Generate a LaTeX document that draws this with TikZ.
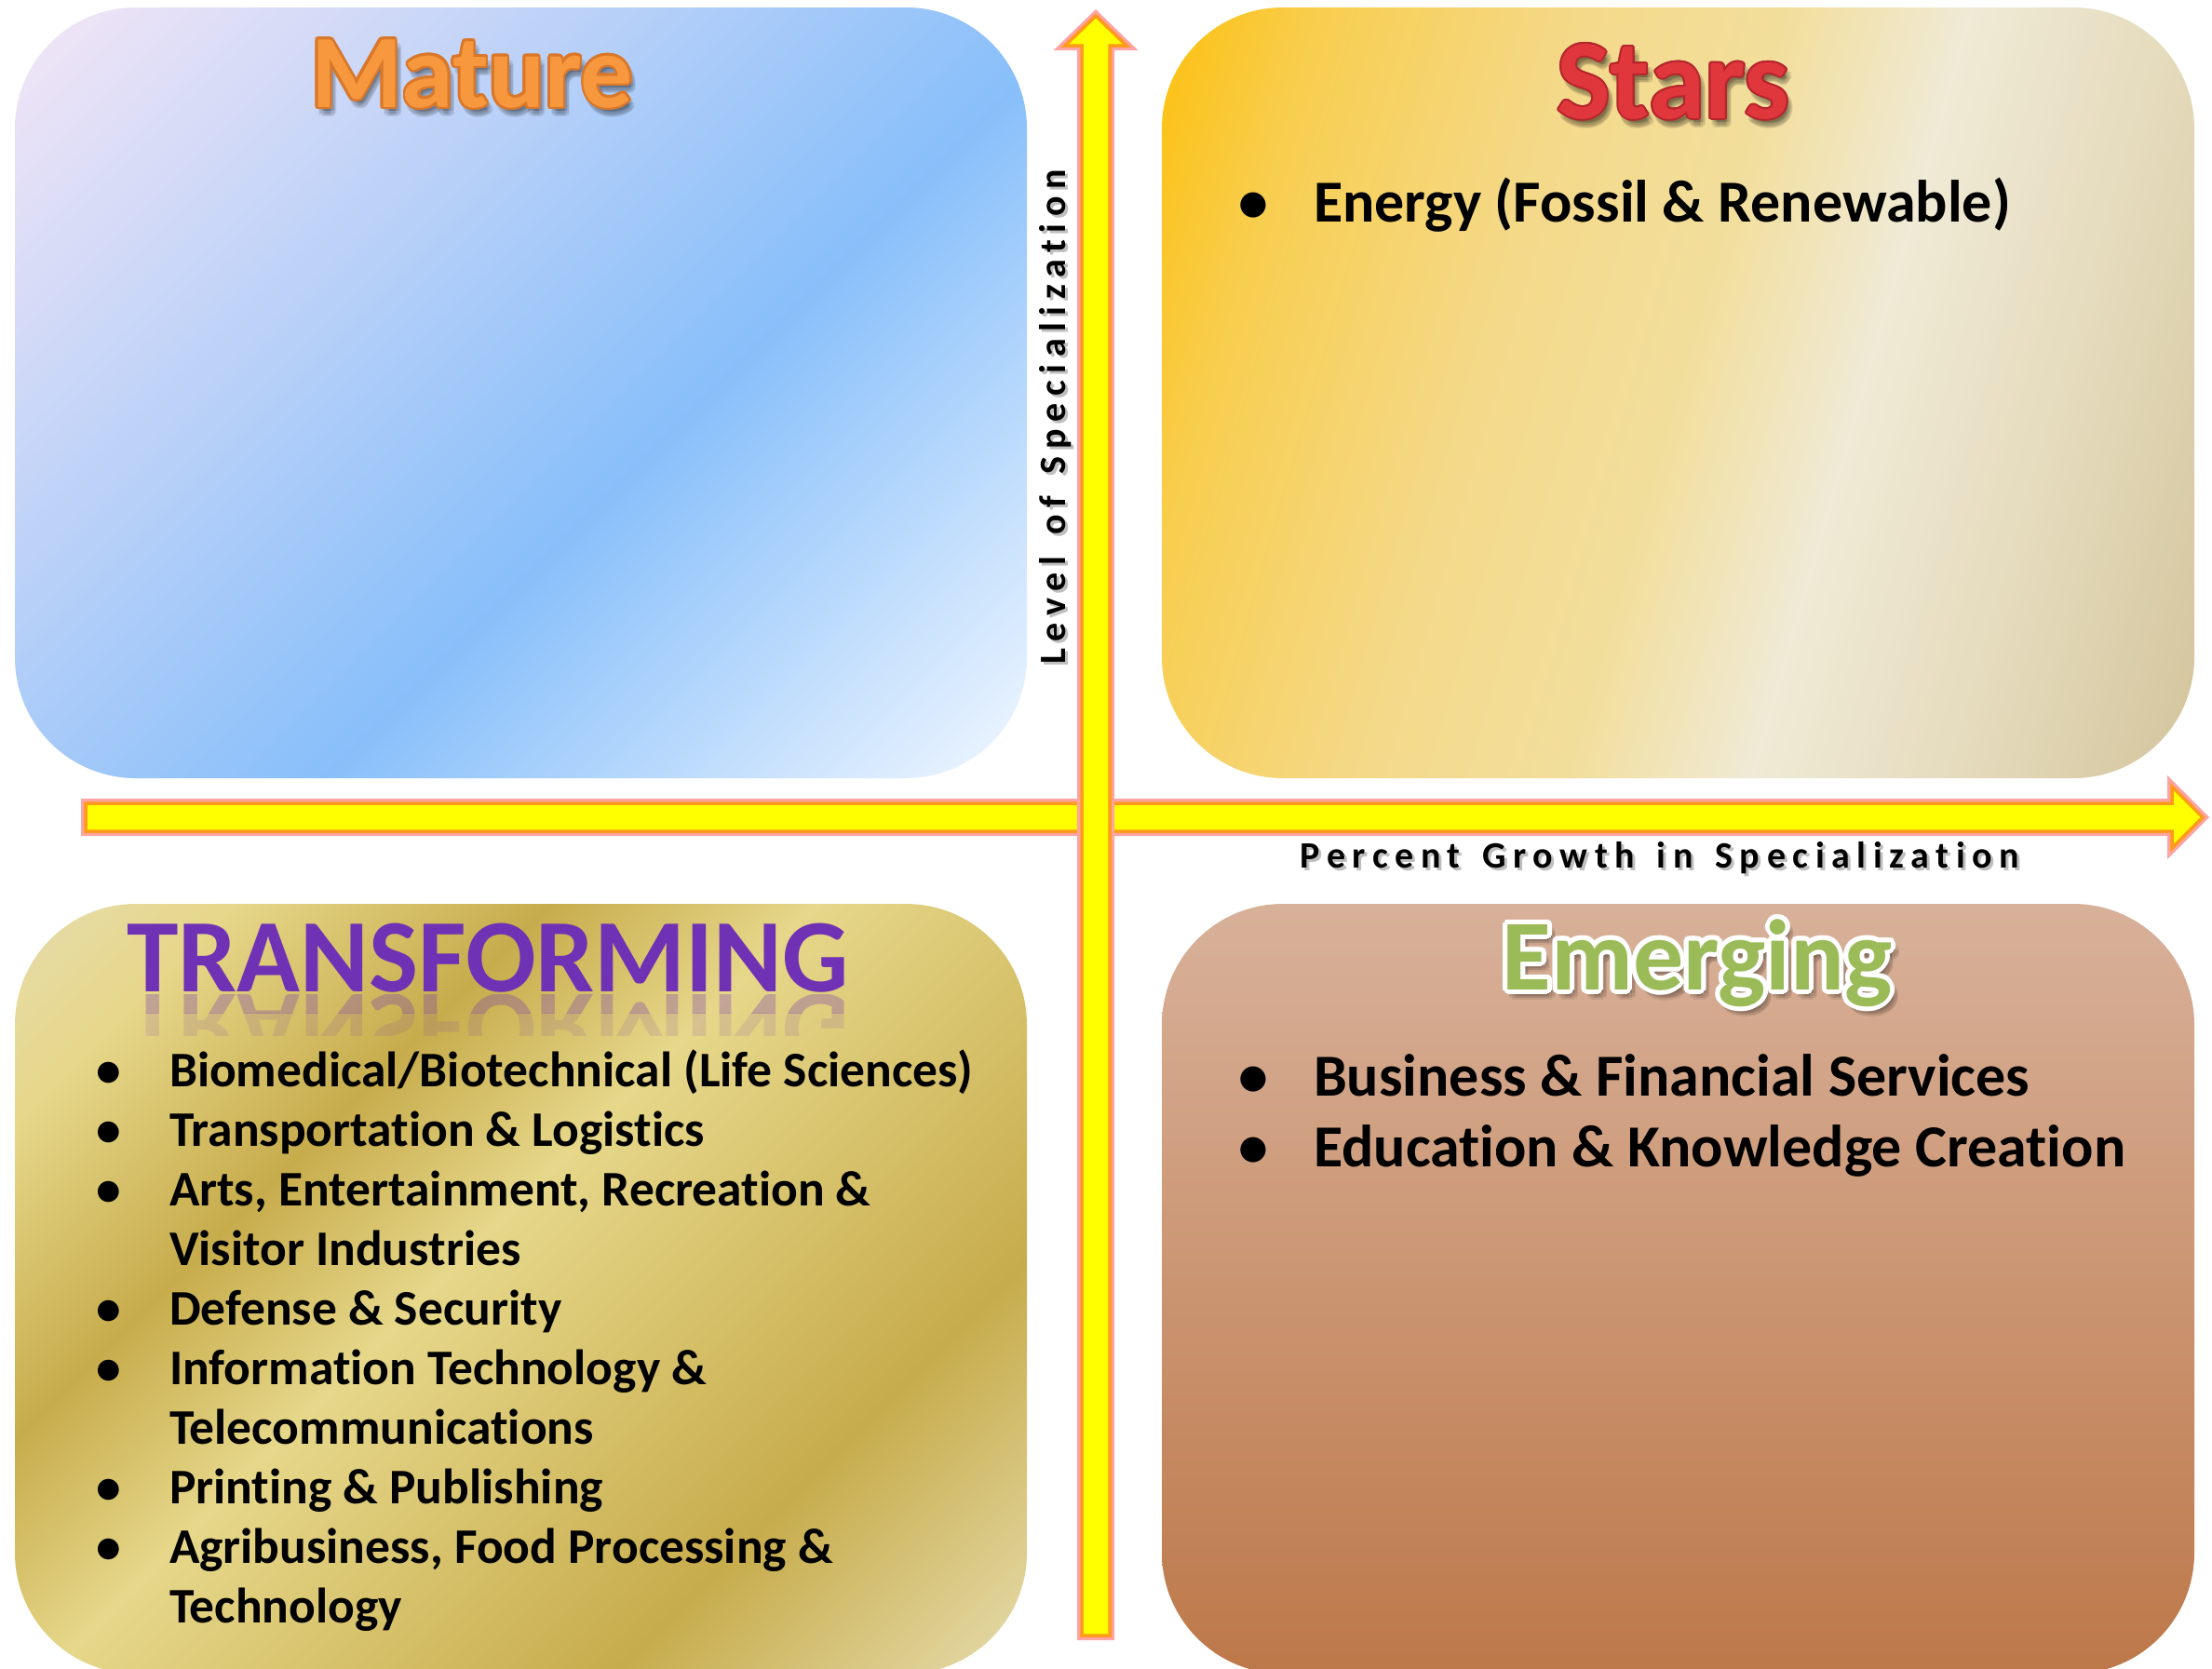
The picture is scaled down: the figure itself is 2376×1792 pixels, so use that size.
\documentclass[tikz,border=0pt]{standalone}
\usepackage{fontspec}
\setmainfont{Carlito}[Ligatures=NoCommon]
\newfontfamily\axisfont{Carlito}[LetterSpace=19,Ligatures=NoCommon]
\definecolor{matA}{HTML}{F4E6F6}
\definecolor{matB}{HTML}{88BFFA}
\definecolor{matC}{HTML}{F0F7FF}
\definecolor{stA}{HTML}{FCC00F}
\definecolor{stB}{HTML}{F8CE50}
\definecolor{stC}{HTML}{F4D98A}
\definecolor{stC2}{HTML}{F2DE9C}
\definecolor{stD}{HTML}{F0EAD6}
\definecolor{stD2}{HTML}{E4DABB}
\definecolor{stE}{HTML}{D3C49C}
\definecolor{gA}{HTML}{E6DCAC}
\definecolor{gB}{HTML}{E6D78A}
\definecolor{gC}{HTML}{C7AC4C}
\definecolor{emTop}{HTML}{D8B19A}
\definecolor{emMid}{HTML}{D5A177}
\definecolor{emBot}{HTML}{BD7849}
\definecolor{arrowYellow}{HTML}{FFFF00}
\definecolor{arrowOrange}{HTML}{FF9A1A}
\definecolor{arrowPink}{HTML}{FFA3A3}
\definecolor{matureOrange}{HTML}{F7983E}
\definecolor{matureEdge}{HTML}{D9772A}
\definecolor{starsRed}{HTML}{E0373D}
\definecolor{starsEdge}{HTML}{B3262C}
\definecolor{transPurple}{HTML}{7032B4}
\definecolor{emGreen}{HTML}{9BBB59}
\pgfdeclarehorizontalshading{matureshade}{100bp}{color(0bp)=(matA); color(14.6bp)=(matA); color(57.5bp)=(matB); color(85.4bp)=(matC); color(100bp)=(matC)}
\pgfdeclarehorizontalshading{starsshade}{100bp}{color(0bp)=(stA); color(19.1bp)=(stA); color(27bp)=(stB); color(40bp)=(stC); color(50bp)=(stC2); color(59bp)=(stD); color(70bp)=(stD2); color(80.9bp)=(stE); color(100bp)=(stE)}
\pgfdeclarehorizontalshading{goldshade}{100bp}{color(0bp)=(gA); color(14.6bp)=(gA); color(23.1bp)=(gB); color(35.8bp)=(gC); color(46.4bp)=(gB); color(69.1bp)=(gC); color(85.4bp)=(gA); color(100bp)=(gA)}
\newcommand\listfontA{\fontsize{64}{76}\selectfont\bfseries}
\newcommand\listfontB{\fontsize{53.5}{64}\selectfont\bfseries}
\newcommand\listfontC{\fontsize{64}{76}\selectfont\bfseries}
\newcommand\axislabelfont{\axisfont\fontsize{40}{48}\selectfont\bfseries}
\newcommand\wgap{\hspace{7pt} }
\begin{document}
\begin{tikzpicture}[x=1pt,y=-1pt,
  quad/.style={rounded corners=130pt},
  axisarrow/.style={fill=arrowYellow, draw=arrowOrange, line width=3.5pt, line join=miter,
    preaction={draw=arrowPink, line width=10pt, line join=miter}},
  txt/.style={inner sep=0pt, outer sep=0pt},
  itemA/.style={txt, anchor=base west, font=\listfontA},
  itemB/.style={txt, anchor=base west, font=\listfontB},
  itemC/.style={txt, anchor=base west, font=\listfontC},
  bulA/.style={txt, anchor=base, font=\listfontA},
  bulB/.style={txt, anchor=base, font=\listfontB},
  bulC/.style={txt, anchor=base, font=\listfontC},
  titleM/.style={txt, anchor=base, font=\fontsize{112}{130}\selectfont\bfseries},
  titleS/.style={txt, anchor=base, font=\fontsize{122}{140}\selectfont\bfseries},
  titleT/.style={txt, anchor=base, font=\fontsize{112}{130}\selectfont\bfseries},
  titleE/.style={txt, anchor=base, font=\fontsize{108}{126}\selectfont\bfseries},
  axislab/.style={txt, anchor=base, font=\axislabelfont}
]
\useasboundingbox (0,0) rectangle (2376,1792);
\fill[white] (0,0) rectangle (2376,1792);

% quadrants
\shade[quad, shading=matureshade, shading angle=-45] (16,8) rectangle (1103,836);
\shade[quad, shading=starsshade, shading angle=-16] (1248,8) rectangle (2357,836);
\shade[quad, shading=goldshade, shading angle=-45] (16,971) rectangle (1103,1798);
\shade[quad, top color=emTop, middle color=emMid, bottom color=emBot] (1248,971) rectangle (2357,1798);

% axes
\draw[axisarrow] (92,863) -- (2333,863) -- (2333,845) -- (2366,878) -- (2333,911) -- (2333,893) -- (92,893) -- cycle;
\draw[axisarrow] (1162,1757) -- (1162,49) -- (1144,49) -- (1177,17) -- (1210,49) -- (1192,49) -- (1192,1757) -- cycle;

% axis labels
\node[axislab, text=black, opacity=0.25] (xlabsh) at (1786,935) {Percent\wgap Growth\wgap in\wgap Specialization};
\node[axislab] (xlab) at (1783,932) {Percent\wgap Growth\wgap in\wgap Specialization};
\node[axislab, rotate=90, text=black, opacity=0.25] (ylabsh) at (1147,451) {Level\wgap of\wgap Specialization};
\node[axislab, rotate=90] (ylab) at (1144,448) {Level\wgap of\wgap Specialization};

% Mature title
\foreach \a [count=\i] in {0,45,...,315}
  \node[titleM, text=black, opacity=0.07, shift={(\a:3)}] (msh\i) at (511,122) {Mature};
\foreach \a [count=\i] in {0,30,...,330}
  \node[titleM, text=matureEdge, shift={(\a:2.5)}] (mout\i) at (507,115) {Mature};
\node[titleM, text=matureOrange] (mature) at (507,115) {Mature};

% Stars title
\foreach \a [count=\i] in {0,45,...,315}
  \node[titleS, text=black, opacity=0.08, shift={(\a:3)}] (ssh\i) at (1801,134) {Stars};
\foreach \a [count=\i] in {0,30,...,330}
  \node[titleS, text=starsEdge, shift={(\a:2)}] (sout\i) at (1797,127) {Stars};
\node[titleS, text=starsRed] (stars) at (1797,127) {Stars};

% Transforming title with reflection
\begin{scope}
  \clip (100,1068) rectangle (960,1088);
  \node[titleT, text=transPurple, opacity=0.3, yscale=-1] (trefl1) at (524,1068) {TRANSFORMING};
\end{scope}
\begin{scope}
  \clip (100,1088) rectangle (960,1112);
  \node[titleT, text=transPurple, opacity=0.13, yscale=-1] (trefl2) at (524,1068) {TRANSFORMING};
\end{scope}
\node[titleT, text=transPurple] (transforming) at (524,1065) {TRANSFORMING};

% Emerging title
\foreach \a [count=\i] in {0,45,...,315}
  \node[titleE, text=black, opacity=0.07, shift={(\a:4)}] (esh\i) at (1828,1070) {Emerging};
\foreach \a [count=\i] in {0,22.5,...,337.5}
  \node[titleE, text=white, shift={(\a:5)}] (eout\i) at (1823,1063) {Emerging};
\node[titleE, text=emGreen] (emerging) at (1823,1063) {Emerging};

% Stars list
\node[bulA] (sb1) at (1346,238) {•};
\node[itemA] (s1) at (1411,238) {Energy (Fossil \& Renewable)};

% Emerging list
\node[bulC] (eb1) at (1346,1177) {•};
\node[itemC] (e1) at (1411,1177) {Business \& Financial Services};
\node[bulC] (eb2) at (1346,1253) {•};
\node[itemC] (e2) at (1411,1253) {Education \& Knowledge Creation};

% Transforming list
\node[bulB] (tb1) at (117,1167) {•};
\node[itemB] (t1) at (182,1167) {Biomedical/Biotechnical (Life Sciences)};
\node[bulB] (tb2) at (117,1231) {•};
\node[itemB] (t2) at (182,1231) {Transportation \& Logistics};
\node[bulB] (tb3) at (117,1295) {•};
\node[itemB] (t3) at (182,1295) {Arts, Entertainment, Recreation \&};
\node[itemB] (t3b) at (182,1359) {Visitor Industries};
\node[bulB] (tb4) at (117,1423) {•};
\node[itemB] (t4) at (182,1423) {Defense \& Security};
\node[bulB] (tb5) at (117,1487) {•};
\node[itemB] (t5) at (182,1487) {Information Technology \&};
\node[itemB] (t5b) at (182,1551) {Telecommunications};
\node[bulB] (tb6) at (117,1615) {•};
\node[itemB] (t6) at (182,1615) {Printing \& Publishing};
\node[bulB] (tb7) at (117,1679) {•};
\node[itemB] (t7) at (182,1679) {Agribusiness, Food Processing \&};
\node[itemB] (t7b) at (182,1743) {Technology};
\end{tikzpicture}
\end{document}
